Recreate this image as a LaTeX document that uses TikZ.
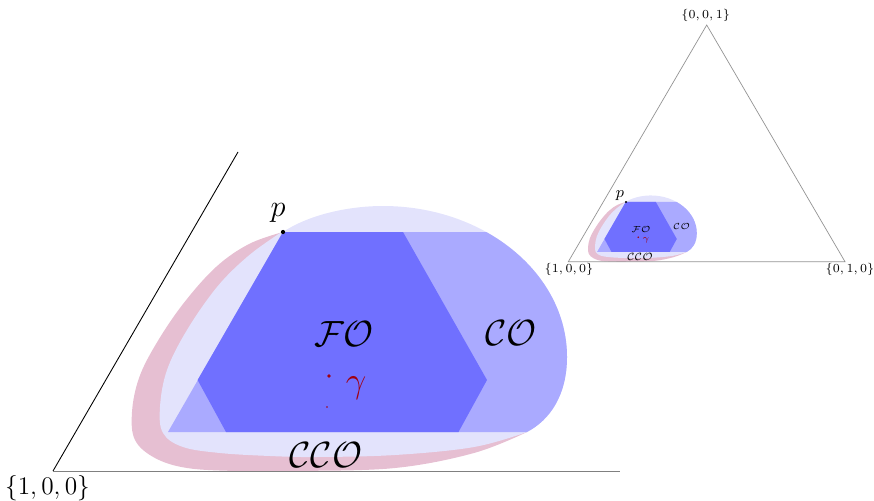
\documentclass[tikz,border=0pt]{standalone}
\definecolor{pinkc}{HTML}{E6BFD2}
\definecolor{lavc}{HTML}{E3E3FC}
\definecolor{coc}{HTML}{AAAAFF}
\definecolor{foc}{HTML}{7070FF}
\definecolor{gamc}{HTML}{A00010}
\newcommand\ovalp[1]{#1 (230,-239) .. controls (257,-257) and (297,-265) .. (330,-265) .. controls (431.6,-265) and (514,-197.4) .. (514,-114) .. controls (514,-76) and (497,-51) .. (474,-39) -- plot[smooth,tension=0.6] coordinates {(474,-39) (421,-24) (342,-16) (263,-14) (217,-15) (167,-18) (130,-24) (110,-38) (107,-64) (114,-101) (134,-141) (164,-184) (194,-214) (224,-236) (230,-239)} -- cycle;}
\newcommand\regionset{%
  \fill[pinkc] plot[smooth,tension=0.6] coordinates {(230,-239) (196,-227) (163,-204) (130,-167) (103,-127) (86,-93) (79,-59) (82,-31) (102,-13) (134,-3) (184,0) (243,0) (342,-3) (421,-18) (474,-39)} -- cycle;
  \ovalp{\fill[lavc]}
  \begin{scope}
    \ovalp{\clip}
    \fill[coc] (230,-239) -- (600,-239) -- (600,-39) -- (115,-39) -- cycle;
  \end{scope}
  \fill[foc] (230,-239) -- (350,-239) -- (434,-91) -- (405.5,-39) -- (173,-39) -- (144.6,-91) -- cycle;
}
\tikzset{
  lab/.style={inner sep=0pt},
  big/.style={lab,font=\fontsize{21}{21}\selectfont},
  sm/.style={lab,font=\fontsize{5.5}{6}\selectfont},
  vert/.style={lab,font=\fontsize{7.3}{8}\selectfont}
}
\begin{document}
\begin{tikzpicture}[x=0.02cm,y=-0.02cm]
\useasboundingbox (0,0) rectangle (874,500);
% big copy
\begin{scope}[shift={(53,471)}]
  \regionset
\end{scope}
\coordinate (A) at (53,471);
\coordinate (Atop) at (238,152);
\coordinate (Bend) at (620,471);
\draw[black,line width=0.5pt] (A) -- (Atop);
\draw[gray,line width=0.5pt] (A) -- (Bend);
\node[lab,font=\fontsize{14}{14}\selectfont] (l100big) at (47.5,488) {$\{1,0,0\}$};
\node[big] (fo) at (344,334) {$\mathcal{FO}$};
\node[big] (co) at (511,333) {$\mathcal{CO}$};
\node[big] (cco) at (326,455) {$\mathcal{CCO}$};
\node[big,text=gamc] (gam) at (356,388) {$\gamma$};
\node[lab,font=\fontsize{18}{18}\selectfont] (plab) at (278,213) {$p$};
\coordinate (P) at (283,232);
\fill (P) circle (1.2pt);
\fill[gamc] (329,376) circle (1.1pt);
\fill[gamc] (327,407) circle (0.45pt);
% small copy
\begin{scope}[shift={(568.3,261.7)},scale=0.25]
  \regionset
\end{scope}
\coordinate (a) at (568.3,261.7);
\coordinate (b) at (845,261.7);
\coordinate (c) at (706.7,25);
\draw[gray!85,line width=0.4pt] (a) -- (b) -- (c) -- cycle;
\node[vert] (l001) at (705.7,15) {$\{0,0,1\}$};
\node[vert] (l100) at (569,269) {$\{1,0,0\}$};
\node[vert] (l010) at (850,269) {$\{0,1,0\}$};
\node[lab,font=\fontsize{9}{9}\selectfont] (ps) at (620,196) {$p$};
\coordinate (Ps) at (626,202);
\fill (Ps) circle (0.6pt);
\node[sm] (fos) at (641,229) {$\mathcal{FO}$};
\node[sm] (cos) at (681.7,226) {$\mathcal{CO}$};
\node[sm,text=gamc] (gams) at (646,240) {$\gamma$};
\node[lab,font=\fontsize{6}{6}\selectfont] (ccos) at (640,257) {$\mathcal{CCO}$};
\fill[gamc] (638.3,237.3) circle (0.5pt);
\end{tikzpicture}
\end{document}
